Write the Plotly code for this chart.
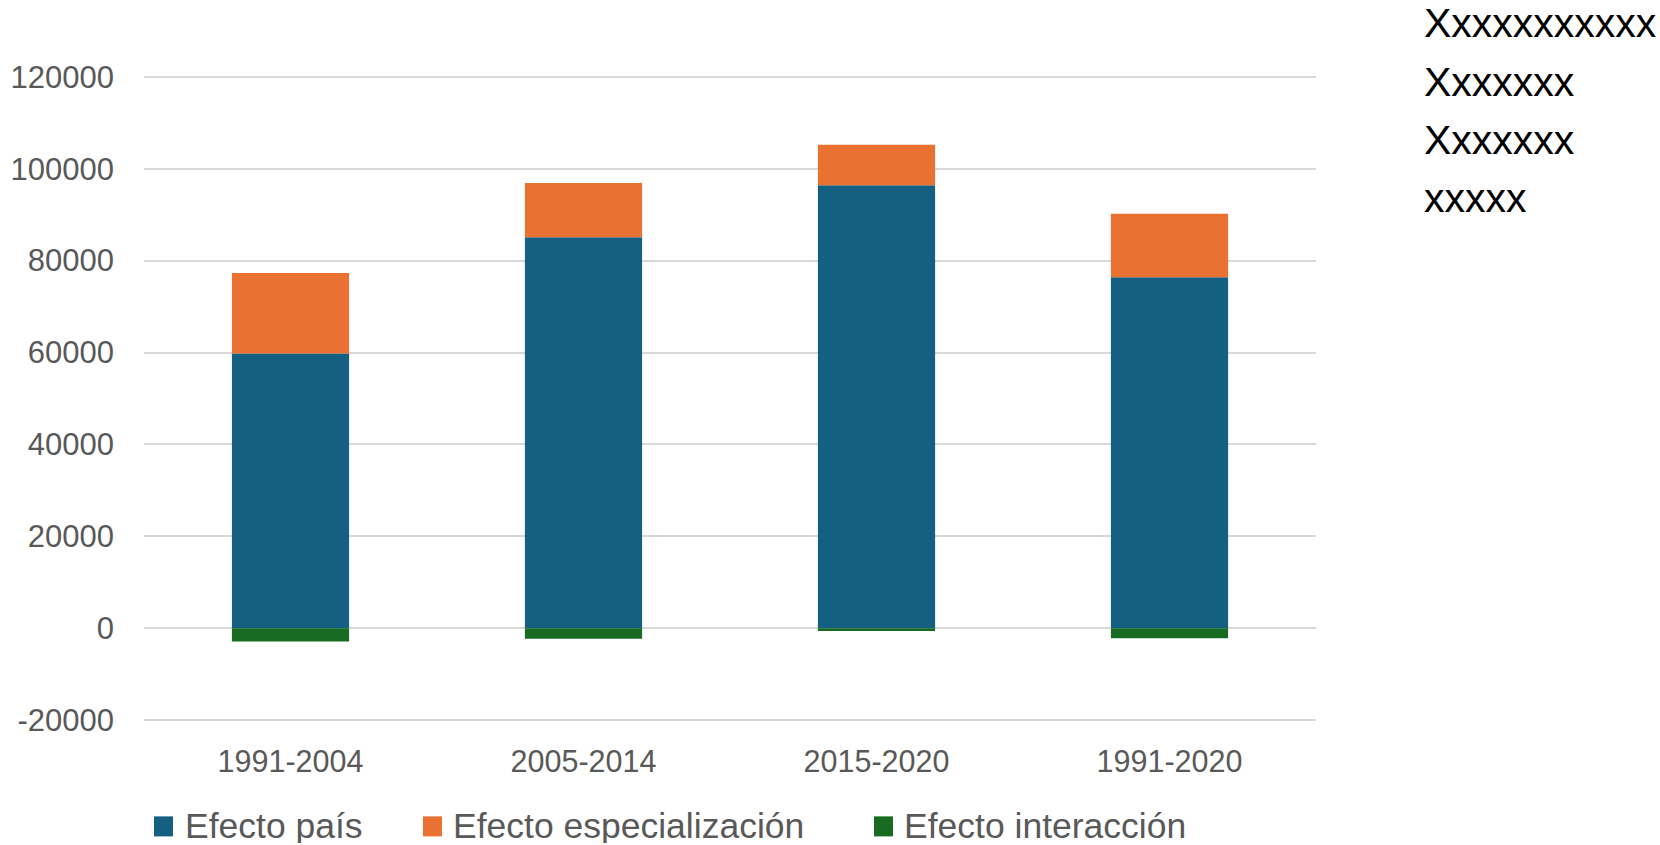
import plotly.graph_objects as go

# ---- data ----
periods = ["1991-2004", "2005-2014", "2015-2020", "1991-2020"]
efecto_pais = [59800, 85100, 96400, 76400]
efecto_especializacion = [17500, 11800, 8800, 13800]
efecto_interaccion = [-2900, -2300, -600, -2200]
series_names = ["Efecto país", "Efecto especialización", "Efecto interacción"]
series_colors = ["#156082", "#E97132", "#196B24"]
y_ticks = [-20000, 0, 20000, 40000, 60000, 80000, 100000, 120000]
side_text = ["Xxxxxxxxxxx", "Xxxxxxx", "Xxxxxxx", "xxxxx"]

# ---- layout geometry (pixels, page coordinates; body margin removed via post_script) ----
W, H = 1660, 845
Y_MIN, Y_MAX, PAD = -20000, 120000, 400
# plot area measured on the page: x 144..1316, y 77.3 (120000) .. 719.9 (-20000)
PX_PER_UNIT = (719.9 - 77.3) / (Y_MAX - Y_MIN)
top_px = 77.3 - PAD * PX_PER_UNIT
bot_px = 719.9 + PAD * PX_PER_UNIT
L, R = 144, W - 1316
T, B = top_px, H - bot_px
PW, PH = W - L - R, H - T - B


def px_x(x):
    return (x - L) / PW


def px_y(y):
    return (H - B - y) / PH


fig = go.Figure()
for name, vals, col in zip(series_names,
                           [efecto_pais, efecto_especializacion, efecto_interaccion],
                           series_colors):
    fig.add_trace(go.Bar(x=periods, y=vals, name=name, marker_color=col,
                         marker_line_width=0, width=0.4, showlegend=False))

GRID = "#D9D9D9"
TXT = "#595959"
FONT = "Liberation Sans"

# custom legend (squares + text)
legend_items = [(154, 184), (423, 452), (874, 903)]
annotations = []
shapes = []
for (sq_x, tx_x), name, col in zip(legend_items, series_names, series_colors):
    shapes.append(dict(type="rect", xref="paper", yref="paper",
                       x0=px_x(sq_x), x1=px_x(sq_x + 19),
                       y0=px_y(836), y1=px_y(816),
                       fillcolor=col, line_width=0, layer="above"))
    annotations.append(dict(text=name, xref="paper", yref="paper",
                            x=px_x(tx_x), y=px_y(825.5), xanchor="left", yanchor="middle",
                            height=34, valign="middle",
                            showarrow=False, font=dict(family=FONT, size=35.5, color=TXT),
                            borderpad=0))

# side text lines
for t, yc in zip(side_text, [23.6, 82.1, 140.2, 198.3]):
    annotations.append(dict(text=t, xref="paper", yref="paper",
                            x=px_x(1423), y=px_y(yc), xanchor="left", yanchor="middle",
                            showarrow=False, font=dict(family=FONT, size=41, color="#000000"),
                            borderpad=0))

fig.update_layout(
    width=W, height=H,
    margin=dict(l=L, r=R, t=T, b=B, pad=0, autoexpand=False),
    barmode="relative",
    plot_bgcolor="white", paper_bgcolor="white",
    font=dict(family=FONT, color=TXT),
    showlegend=False,
    annotations=annotations,
    shapes=shapes,
)
fig.update_yaxes(range=[Y_MIN - PAD, Y_MAX + PAD], tickvals=y_ticks,
                 ticktext=[str(v) for v in y_ticks], automargin=False,
                 showgrid=True, gridcolor=GRID, gridwidth=1.5,
                 zeroline=True, zerolinecolor=GRID, zerolinewidth=1.5,
                 showline=False, ticks="", ticklabelstandoff=29,
                 tickfont=dict(family=FONT, size=31, color=TXT))
fig.update_xaxes(showgrid=False, showline=False, ticks="", ticklabelstandoff=18,
                 automargin=False,
                 tickfont=dict(family=FONT, size=30.5, color=TXT))

fig.write_html("out.html",
               config={"displayModeBar": False},
               post_script="document.body.style.margin='0';document.body.style.overflow='hidden';")
